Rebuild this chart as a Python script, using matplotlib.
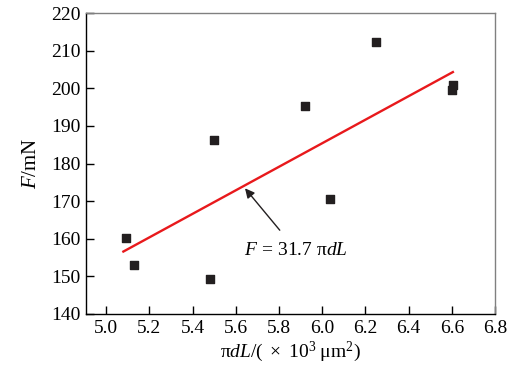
import matplotlib.pyplot as plt
import numpy as np

plt.rcParams['font.family'] = ['Liberation Serif', 'DejaVu Serif']
plt.rcParams['mathtext.fontset'] = 'custom'
plt.rcParams['mathtext.rm'] = 'Liberation Serif'
plt.rcParams['mathtext.it'] = 'Liberation Serif:italic'

# measured points
area = [5.093, 5.128, 5.481, 5.498, 5.921, 6.037, 6.251, 6.605, 6.600]
force = [160.2, 153.1, 149.4, 186.2, 195.3, 170.5, 212.3, 200.9, 199.5]

# fitted line as drawn
fit_x = [5.08, 6.605]
fit_y = [156.6, 204.3]

xticks = [5.0, 5.2, 5.4, 5.6, 5.8, 6.0, 6.2, 6.4, 6.6, 6.8]
yticks = [140, 150, 160, 170, 180, 190, 200, 210, 220]

fig = plt.figure(figsize=(5.24, 3.68), dpi=100)
ax = fig.add_axes([86 / 524, 1 - 314 / 368, 409 / 524, 301 / 368])

ax.plot(fit_x, fit_y, color="#e8191c", lw=1.7, zorder=2)
ax.scatter(area, force, marker="s", s=28, color="#231f20", zorder=3)

ax.set_xlim(4.907, 6.8)
ax.set_ylim(140, 220)
ax.set_xticks(xticks)
ax.set_xticklabels([f"{v:.1f}" for v in xticks])
ax.set_yticks(yticks)
ax.tick_params(direction="in", length=6, width=1, labelsize=14, color="black", pad=4)

for s in ["top", "right"]:
    ax.spines[s].set_color("#808080")
for s in ["left", "bottom"]:
    ax.spines[s].set_color("black")
for s in ax.spines.values():
    s.set_linewidth(1.0)

ax.set_xlabel(r"$\mathrm{\pi}d L\mathrm{/(\ \times\ 10^3\ \mu m^2)}$", fontsize=14, labelpad=2)
ax.set_ylabel(r"$F\mathrm{/mN}$", fontsize=15, labelpad=7)

ax.annotate(r"$F\mathrm{\,=\,31.7\ \pi}dL$", xy=(5.643, 173.4), xytext=(5.88, 157.0),
            fontsize=14, ha="center", va="center",
            arrowprops=dict(arrowstyle="-|>", color="#231f20", lw=1.0,
                            shrinkA=8, shrinkB=0, mutation_scale=14))

fig.savefig("out.png", dpi=100)
